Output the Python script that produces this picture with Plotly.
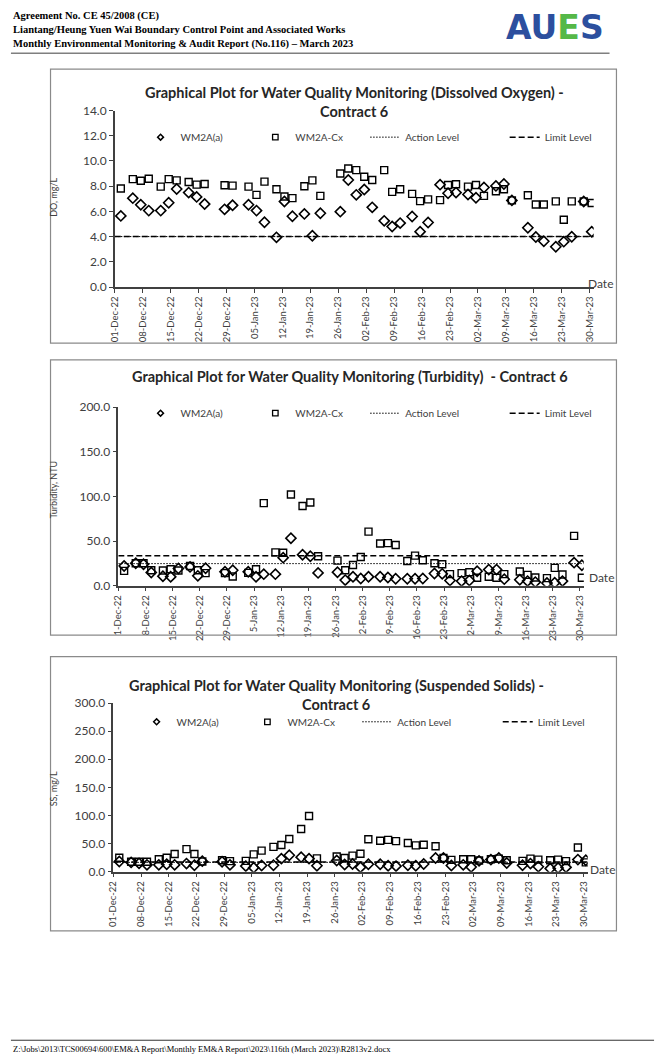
import plotly.graph_objects as go
import pandas as pd

W, H = 660, 1064

# ---------------- data ----------------
dates = ["2022-12-02", "2022-12-05", "2022-12-07", "2022-12-09", "2022-12-12", "2022-12-14",
         "2022-12-16", "2022-12-19", "2022-12-21", "2022-12-23", "2022-12-28", "2022-12-30",
         "2023-01-03", "2023-01-05", "2023-01-07", "2023-01-10", "2023-01-12", "2023-01-14",
         "2023-01-17", "2023-01-19", "2023-01-21", "2023-01-26", "2023-01-28", "2023-01-30",
         "2023-02-01", "2023-02-03", "2023-02-06", "2023-02-08", "2023-02-10", "2023-02-13",
         "2023-02-15", "2023-02-17", "2023-02-20", "2023-02-22", "2023-02-24", "2023-02-27",
         "2023-03-01", "2023-03-03", "2023-03-06", "2023-03-08", "2023-03-10", "2023-03-14",
         "2023-03-16", "2023-03-18", "2023-03-21", "2023-03-23", "2023-03-25", "2023-03-28",
         "2023-03-30"]

do_wm2a_a = [5.64, 7.05, 6.53, 6.06, 6.06, 6.68, 7.78, 7.49, 7.15, 6.58, 6.16, 6.48,
             6.53, 6.06, 5.14, 3.94, 6.79, 5.61, 5.80, 4.07, 5.85, 5.98, 8.49, 7.31,
             7.73, 6.32, 5.25, 4.80, 5.07, 5.59, 4.39, 5.12, 8.12, 7.44, 7.49, 7.34,
             7.08, 7.89, 8.02, 8.17, 6.87, 4.70, 3.97, 3.63, 3.19, 3.60, 3.99, 6.79, 4.39]
do_wm2a_cx = [7.81, 8.56, 8.43, 8.59, 7.96, 8.56, 8.46, 8.33, 8.12, 8.17, 8.07, 8.04,
              7.96, 7.31, 8.36, 7.75, 7.18, 7.05, 7.99, 8.46, 7.23, 9.01, 9.40, 9.27,
              8.75, 8.49, 9.27, 7.55, 7.75, 7.39, 6.81, 6.95, 6.89, 8.09, 8.15, 7.96,
              8.09, 7.23, 7.60, 7.75, 6.87, 7.28, 6.55, 6.55, 6.79, 5.33, 6.79, 6.79, 6.66]
do_action = 4.0
do_limit = 4.0

turb_wm2a_a = [22.2, 25.2, 24.1, 14.8, 10.7, 10.0, 19.3, 21.1, 11.1, 19.6, 15.6, 17.4,
               15.6, 10.0, 13.0, 13.0, 31.5, 53.3, 34.8, 33.0, 14.4, 15.2, 6.3, 10.0,
               8.1, 10.0, 10.0, 9.3, 7.8, 7.8, 7.8, 8.1, 13.7, 13.3, 5.9, 5.2,
               5.9, 16.3, 18.1, 18.1, 7.4, 6.7, 5.2, 4.1, 3.0, 3.3, 5.2, 25.9, 23.0]
turb_wm2a_cx = [16.7, 25.2, 25.2, 17.4, 17.0, 18.5, 17.0, 22.2, 17.4, 14.1, 14.1, 10.4,
                14.4, 18.5, 92.6, 37.4, 37.0, 102.2, 89.3, 93.3, 33.0, 28.1, 17.4, 23.3,
                32.2, 60.7, 47.4, 47.8, 45.6, 27.8, 33.7, 28.5, 25.2, 24.1, 13.0, 14.1,
                15.2, 8.9, 10.0, 8.9, 13.0, 15.9, 12.2, 9.3, 8.5, 20.0, 12.6, 55.9, 8.9]
turb_action = 24.8
turb_limit = 33.7

ss_wm2a_a = [18.1, 16.5, 14.8, 12.1, 12.1, 13.2, 12.1, 14.3, 11.5, 18.7, 17.6, 12.1,
             9.9, 7.1, 11.0, 11.5, 23.1, 29.1, 25.8, 23.1, 10.4, 19.8, 12.6, 13.7,
             7.7, 13.2, 13.2, 10.4, 9.9, 11.5, 10.4, 13.7, 24.2, 24.2, 11.0, 12.1,
             8.2, 19.2, 21.4, 24.2, 15.4, 11.5, 14.3, 8.8, 5.5, 6.6, 7.7, 21.4, 20.3]
ss_wm2a_cx = [24.7, 17.6, 17.6, 17.6, 22.0, 24.7, 31.3, 40.1, 31.3, 18.0, 20.3, 18.7,
              19.2, 30.8, 37.4, 44.0, 47.3, 58.2, 75.8, 98.9, 23.6, 26.9, 24.2, 28.6,
              31.9, 57.7, 54.9, 56.6, 54.4, 51.1, 46.7, 47.8, 45.1, 24.2, 20.9, 22.0,
              22.0, 19.8, 22.0, 23.1, 20.3, 19.2, 23.1, 21.4, 20.3, 21.4, 18.7, 42.9, 16.5]
ss_action = 16.5
ss_limit = 17.2

tick_dates = ["2022-12-01", "2022-12-08", "2022-12-15", "2022-12-22", "2022-12-29", "2023-01-05",
              "2023-01-12", "2023-01-19", "2023-01-26", "2023-02-02", "2023-02-09", "2023-02-16",
              "2023-02-23", "2023-03-02", "2023-03-09", "2023-03-16", "2023-03-23", "2023-03-30"]
tick_labels_a = ["01-Dec-22", "08-Dec-22", "15-Dec-22", "22-Dec-22", "29-Dec-22", "05-Jan-23",
                 "12-Jan-23", "19-Jan-23", "26-Jan-23", "02-Feb-23", "09-Feb-23", "16-Feb-23",
                 "23-Feb-23", "02-Mar-23", "09-Mar-23", "16-Mar-23", "23-Mar-23", "30-Mar-23"]
tick_labels_b = ["1-Dec-22", "8-Dec-22", "15-Dec-22", "22-Dec-22", "29-Dec-22", "5-Jan-23",
                 "12-Jan-23", "19-Jan-23", "26-Jan-23", "2-Feb-23", "9-Feb-23", "16-Feb-23",
                 "23-Feb-23", "2-Mar-23", "9-Mar-23", "16-Mar-23", "23-Mar-23", "30-Mar-23"]

series_names = ["WM2A(a)", "WM2A-Cx", "Action Level", "Limit Level"]

# ---------------- helpers ----------------
def px(x):
    return x / W


def py(y):
    return 1 - y / H


FONT = "Lato, 'Open Sans', sans-serif"
SERIF = "'Liberation Serif', 'DejaVu Serif', serif"
TXT = "#404040"

half_day = pd.Timedelta(hours=12)
x_start = pd.Timestamp(tick_dates[0]) - half_day
x_end = pd.Timestamp(tick_dates[-1]) + pd.Timedelta(days=1) - half_day
tick_pos = [pd.Timestamp(d) - half_day for d in tick_dates]

charts = [
    dict(a=do_wm2a_a, cx=do_wm2a_cx, act=do_action, lim=do_limit, ymax=14, dtick=2,
         labels=tick_labels_a, xdom=(110, 594), ydom=(283, 104),
         box=(45, 62, 617, 340), titles=[("Graphical Plot for Water Quality Monitoring (Dissolved Oxygen) -", 352, 86),
                                         ("Contract 6", 352, 105)],
         ytitle="DO, mg/L", ytitle_y=192, leg_y=131, leg_x=(156, 272, 368, 509), date=(601, 279)),
    dict(a=turb_wm2a_a, cx=turb_wm2a_cx, act=turb_action, lim=turb_limit, ymax=200, dtick=50,
         labels=tick_labels_b, xdom=(113.5, 584), ydom=(586, 405),
         box=(45, 357, 617, 636), titles=[("Graphical Plot for Water Quality Monitoring (Turbidity)  - Contract 6", 348, 374)],
         ytitle="Turbidity, NTU", ytitle_y=488, leg_y=411, leg_x=(156, 272, 368, 509), date=(602, 578)),
    dict(a=ss_wm2a_a, cx=ss_wm2a_cx, act=ss_action, lim=ss_limit, ymax=300, dtick=50,
         labels=tick_labels_a, xdom=(108.5, 588), ydom=(876, 705),
         box=(45, 658, 617, 936), titles=[("Graphical Plot for Water Quality Monitoring (Suspended Solids) -", 334, 687),
                                          ("Contract 6", 334, 706)],
         ytitle="SS, mg/L", ytitle_y=792, leg_y=724, leg_x=(152, 264, 360, 502), date=(603, 874)),
]

fig = go.Figure()
layout = dict(
    width=W, height=H, margin=dict(l=0, r=0, t=0, b=0),
    paper_bgcolor="white", plot_bgcolor="rgba(0,0,0,0)",
    font=dict(family=FONT, color=TXT),
    showlegend=True,
)
annotations = []
shapes = []
legend_idx = 0

for i, c in enumerate(charts, start=1):
    xa = "x" if i == 1 else f"x{i}"
    ya = "y" if i == 1 else f"y{i}"
    xk = "xaxis" if i == 1 else f"xaxis{i}"
    yk = "yaxis" if i == 1 else f"yaxis{i}"

    layout[xk] = dict(
        domain=[px(c["xdom"][0]), px(c["xdom"][1])], range=[x_start, x_end], anchor=ya,
        type="date", tickmode="array", tickvals=tick_pos, ticktext=c["labels"],
        tickangle=-90, ticks="outside", ticklen=4, tickwidth=1, tickcolor="#404040",
        showline=True, linecolor="#404040", linewidth=1.5, showgrid=False, zeroline=False,
        tickfont=dict(family=FONT, size=9.5, color=TXT),
    )
    layout[yk] = dict(
        domain=[py(c["ydom"][0]), py(c["ydom"][1])], range=[0, c["ymax"]], anchor=xa,
        dtick=c["dtick"], tick0=0, tickformat=".1f", ticks="outside", ticklen=4,
        tickwidth=1, tickcolor="#404040", showline=True, linecolor="#404040", linewidth=1.5,
        showgrid=False, zeroline=False, tickfont=dict(family=FONT, size=12, color=TXT),
    )

    # data traces
    fig.add_trace(go.Scatter(x=dates, y=c["a"], xaxis=xa, yaxis=ya, mode="markers",
                             name=series_names[0], showlegend=False,
                             marker=dict(symbol="diamond-open", size=7.8, color="black",
                                         line=dict(width=1.6, color="black"))))
    fig.add_trace(go.Scatter(x=dates, y=c["cx"], xaxis=xa, yaxis=ya, mode="markers",
                             name=series_names[1], showlegend=False,
                             marker=dict(symbol="square-open", size=7, color="black",
                                         line=dict(width=1.4, color="black"))))
    fig.add_trace(go.Scatter(x=[x_start, x_end], y=[c["act"], c["act"]], xaxis=xa, yaxis=ya,
                             mode="lines", name=series_names[2], showlegend=False,
                             line=dict(color="black", width=1, dash="1.5px,1.5px")))
    fig.add_trace(go.Scatter(x=[x_start, x_end], y=[c["lim"], c["lim"]], xaxis=xa, yaxis=ya,
                             mode="lines", name=series_names[3], showlegend=False,
                             line=dict(color="black", width=1.5, dash="6px,3px")))

    # legend entries (one legend per entry, placed like the Excel legend)
    leg_styles = [
        dict(mode="markers", marker=dict(symbol="diamond-open", size=4.5, color="black",
                                         line=dict(width=1.5, color="black"))),
        dict(mode="markers", marker=dict(symbol="square-open", size=5.5, color="black",
                                         line=dict(width=1.3, color="black"))),
        dict(mode="lines", line=dict(color="black", width=1, dash="1.5px,1.5px")),
        dict(mode="lines", line=dict(color="black", width=1.5, dash="6px,3px")),
    ]
    for j, st in enumerate(leg_styles):
        legend_idx += 1
        lname = "legend" if legend_idx == 1 else f"legend{legend_idx}"
        fig.add_trace(go.Scatter(x=[None], y=[None], xaxis=xa, yaxis=ya, name=series_names[j],
                                 legend=lname, showlegend=True, **st))
        lx = c["leg_x"][j] - (20 if j < 2 else 5)
        layout[lname] = dict(x=px(lx), y=py(c["leg_y"]), xanchor="left", yanchor="middle",
                             orientation="h", bgcolor="rgba(0,0,0,0)", borderwidth=0,
                             font=dict(family=FONT, size=10, color=TXT),
                             itemclick=False, itemdoubleclick=False)

    # chart box
    bx0, by0, bx1, by1 = c["box"]
    shapes.append(dict(type="rect", xref="paper", yref="paper", x0=px(bx0), x1=px(bx1),
                       y0=py(by1), y1=py(by0), line=dict(color="#8a8a8a", width=1.2)))
    # titles
    for t, tx, ty in c["titles"]:
        annotations.append(dict(text=t, x=px(tx), y=py(ty), xref="paper", yref="paper",
                                showarrow=False, xanchor="center", yanchor="middle",
                                font=dict(family=FONT, size=14.5, color="#262626", weight="bold")))
    # y axis title
    annotations.append(dict(text=c["ytitle"], x=px(48), y=py(c["ytitle_y"]),
                            xref="paper", yref="paper", showarrow=False, textangle=-90,
                            xanchor="center", yanchor="middle",
                            font=dict(family=FONT, size=9, color=TXT)))
    # "Date" label
    annotations.append(dict(text="Date", x=px(c["date"][0]), y=py(c["date"][1]), xref="paper",
                            yref="paper", showarrow=False, xanchor="center", yanchor="middle",
                            font=dict(family=FONT, size=12, color=TXT)))

# page header
header_lines = ["Agreement No. CE 45/2008 (CE)",
                "Liantang/Heung Yuen Wai Boundary Control Point and Associated Works",
                "Monthly Environmental Monitoring &amp; Audit Report (No.116) – March 2023"]
for t, yy in zip(header_lines, [8, 22, 37]):
    annotations.append(dict(text=t, x=px(5), y=py(yy), xref="paper", yref="paper",
                            showarrow=False, xanchor="left", yanchor="middle",
                            font=dict(family=SERIF, size=10.5, color="black", weight="bold")))
annotations.append(dict(text="AU<span style='color:#55b848'>E</span>S", x=px(555), y=py(20),
                        xref="paper", yref="paper", showarrow=False, xanchor="center",
                        yanchor="middle",
                        font=dict(family="'DejaVu Sans', 'Liberation Sans', sans-serif", size=33,
                                  color="#2c4f9e", weight="bold")))
shapes.append(dict(type="line", xref="paper", yref="paper", x0=px(5), x1=px(610),
                   y0=py(46), y1=py(46), line=dict(color="#7f7f7f", width=1.5)))

# page footer
shapes.append(dict(type="line", xref="paper", yref="paper", x0=px(5), x1=px(655),
                   y0=py(1047), y1=py(1047), line=dict(color="#333333", width=1)))
annotations.append(dict(text=r"Z:\Jobs\2013\TCS00694\600\EM&amp;A Report\Monthly EM&amp;A Report\2023\116th (March 2023)\R2813v2.docx",
                        x=px(5), y=py(1056), xref="paper", yref="paper", showarrow=False,
                        xanchor="left", yanchor="middle",
                        font=dict(family=SERIF, size=8.5, color="black")))

layout["annotations"] = annotations
layout["shapes"] = shapes
fig.update_layout(**layout)
fig.write_html("out.html", config={"displayModeBar": False},
               post_script="document.body.style.margin='0';document.body.style.overflow='hidden';")
